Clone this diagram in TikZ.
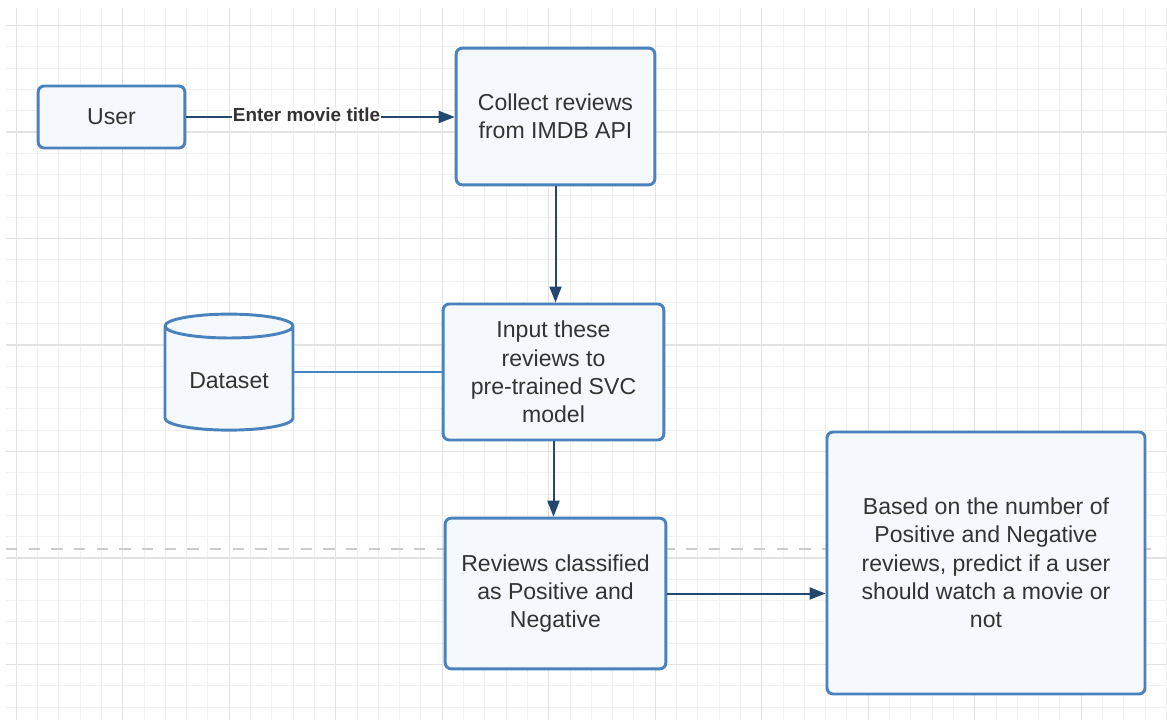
\documentclass[tikz,border=0pt]{standalone}
\usepackage{fontspec}
\setmainfont{Liberation Sans}
\usetikzlibrary{shapes.geometric,arrows.meta}

\tikzset{
  box/.style={draw=boxline, fill=boxfill, line width=2.2pt, rounded corners=4.5pt,
    text=txt, align=center, font=\fontsize{17.3}{21.2}\selectfont},
  flow/.style={draw=arrowcol, line width=1.5pt, -{Triangle[length=12pt,width=9pt]}},
  link/.style={draw=boxline, line width=2.2pt},
  minor/.style={draw=gridminor, line width=0.75pt},
  major/.style={draw=gridmajor, line width=0.8pt},
  lbl/.style={font=\bfseries\fontsize{14.2}{16}\selectfont, text=txt, fill=white, inner sep=0.4pt}
}

\begin{document}
\begin{tikzpicture}[x=0.75pt, y=-0.75pt]
\definecolor{boxline}{HTML}{4A82BD}
\definecolor{boxfill}{HTML}{F5F9FD}
\definecolor{arrowcol}{HTML}{23476F}
\definecolor{txt}{HTML}{333333}
\definecolor{gridminor}{HTML}{F0F0F0}
\definecolor{gridmajor}{HTML}{E3E3E3}
\definecolor{dashcol}{HTML}{CCCCCC}
\useasboundingbox (0,0) rectangle (1167,720);
\fill[white] (0,0) rectangle (1167,720);

% background grid
\foreach \k in {0,...,54}
  \draw[minor] ({16.2+21.3*\k},8) -- ({16.2+21.3*\k},720);
\foreach \k in {0,...,32}
  \draw[minor] (6,{25.5+21.3*\k}) -- (1167,{25.5+21.3*\k});
\foreach \k in {0,5,...,50}
  \draw[major] ({16.2+21.3*\k},8) -- ({16.2+21.3*\k},720);
\foreach \k in {0,5,...,30}
  \draw[major] (6,{25.5+21.3*\k}) -- (1167,{25.5+21.3*\k});
\draw[dashcol, line width=1.5pt, dash pattern=on 8.5pt off 8.5pt] (6,549) -- (1162,549);

% boxes
\node[box, minimum width=110pt, minimum height=46.5pt] (user) at (111.5,117) {User};
\node[box, minimum width=149pt, minimum height=102.5pt] (collect) at (555.5,116.5) {Collect reviews\\from IMDB API};
\node[box, minimum width=165.5pt, minimum height=102pt] (input) at (553.5,372) {Input these\\reviews to\\pre-trained SVC\\model};
\node[box, minimum width=165.5pt, minimum height=113pt] (reviews) at (555.5,593.5) {Reviews classified\\as Positive and\\Negative};
\node[box, minimum width=238.5pt, minimum height=196.5pt] (based) at (986,563) {Based on the number of\\Positive and Negative\\reviews, predict if a user\\should watch a movie or\\not};
\node[box, rounded corners=0pt, cylinder, shape border rotate=90, aspect=0.27,
  minimum width=96pt, minimum height=87pt] (ds) at (229,381) {Dataset};

% connectors
\draw[flow] (user.east) -- node[lbl, pos=0.448, yshift=2pt] {Enter movie title} (user.east -| collect.west);
\draw[flow] (collect.south) -- (collect.south |- input.north);
\draw[flow] (input.south) -- (input.south |- reviews.north);
\draw[link] (ds.east |- input.west) -- (input.west);
\draw[flow] (reviews.east) -- (reviews.east -| based.west);
\end{tikzpicture}
\end{document}
